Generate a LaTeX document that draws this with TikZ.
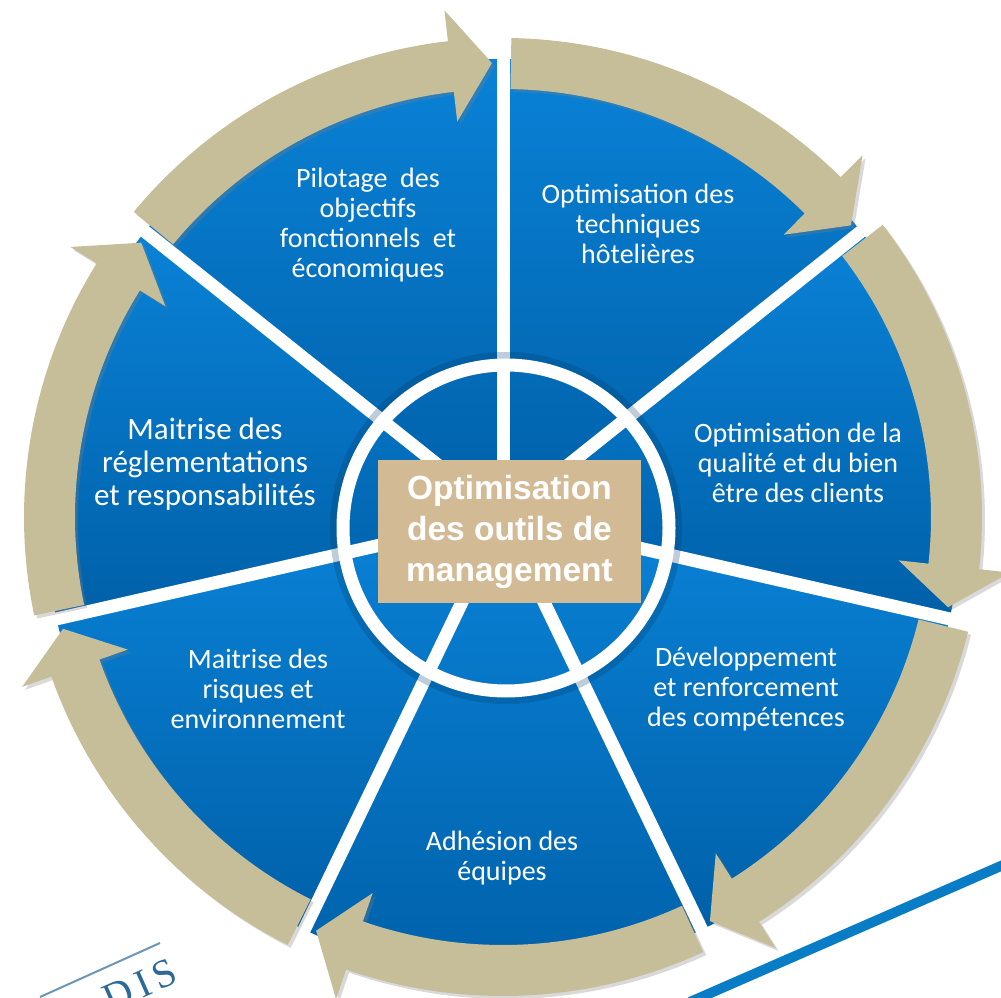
\documentclass[tikz,border=0pt]{standalone}
\usepackage{fontspec}
\usepackage{tikz}
\usetikzlibrary{shadows}
\newfontfamily\carlito{Carlito}
\newfontfamily\heros{Liberation Sans}
\newfontfamily\logofont{Liberation Serif}
\definecolor{blueL}{RGB}{10,130,215}
\definecolor{blueD}{RGB}{0,96,168}
\definecolor{tanband}{RGB}{197,190,153}
\definecolor{tanbox}{RGB}{210,186,149}
\definecolor{lineblue}{RGB}{8,124,196}
\definecolor{logoblue}{RGB}{45,105,150}
\tikzset{
  sector/.style={top color=blueL, bottom color=blueD},
  gapline/.style={white, line width=13},
  tanarrow/.style={fill=tanband, drop shadow={shadow xshift=3, shadow yshift=-3, opacity=.3}},
  lbl/.style={text=white, align=center, font=\carlito\fontsize{28}{30}\selectfont},
}

\begin{document}
\begin{tikzpicture}[x=1pt, y=1pt]
  \useasboundingbox (0,0) rectangle (1001,997);
  \clip (0,0) rectangle (1001,997);
  \begin{scope}[shift={(503,480)}]
    \foreach \k in {0,...,6}{
      \pgfmathsetmacro\sa{90-\k*360/7}
      \pgfmathsetmacro\sb{90-(\k+1)*360/7}
      \shade[sector] (0,0) -- (\sa:458) arc[start angle=\sa, end angle=\sb, radius=458] -- cycle;
    }
    \foreach \k in {0,...,6}
      \draw[gapline] (0,0) -- ({90-\k*360/7}:470);
    \draw[blueD!60!black, opacity=.25, line width=8] (3,-11) circle[radius=172];
    \draw[white, line width=13] (3,-11) circle[radius=163];
    \foreach \k in {0,...,6}{
      \pgfmathsetmacro\ga{90-\k*360/7-1}
      \pgfmathsetmacro\gt{90-(\k+1)*360/7+1.4}
      \pgfmathsetmacro\gb{\gt+5.2}
      \path[tanarrow] (\ga:428) -- (\ga:479) arc[start angle=\ga, end angle=\gb, radius=479]
        -- (\gb:510) -- (\gt:454) -- (\gb:398) -- (\gb:428)
        arc[start angle=\gb, end angle=\ga, radius=428] -- cycle;
    }
  \end{scope}
  \node[fill=tanbox, minimum width=263, minimum height=143, text=white, align=center,
        font=\heros\bfseries\fontsize{33.5}{41}\selectfont] (centre) at (509.5,465.5)
        {Optimisation\\des outils de\\management};
  \node[lbl] (pilot) at (368,772) {Pilotage\ \ des\\objectifs\\fonctionnels\ \ et\\économiques};
  \node[lbl] (techn) at (638,773) {Optimisation des\\techniques\\hôtelières};
  \node[lbl] (qualite) at (798,534) {Optimisation de la\\qualité et du bien\\être des clients};
  \node[lbl] (devel) at (746,308) {Développement\\et renforcement\\des compétences};
  \node[lbl] (adhesion) at (502,139) {Adhésion des\\équipes};
  \node[lbl] (risques) at (258,308) {Maitrise des\\risques et\\environnement};
  \node[lbl, font=\carlito\fontsize{31}{33}\selectfont] (reglem) at (205,533)
        {Maitrise des\\réglementations\\et responsabilités};
  \draw[lineblue, line width=10] (690,-5) -- (1010,135);
  \draw[logoblue!70, line width=2] (40,0) -- (160,54);
  \node[text=logoblue, rotate=24, font=\logofont\fontsize{40}{40}\selectfont] (logo) at (140,12)
        {D\hspace{6pt}I\hspace{6pt}S};
\end{tikzpicture}
\end{document}
